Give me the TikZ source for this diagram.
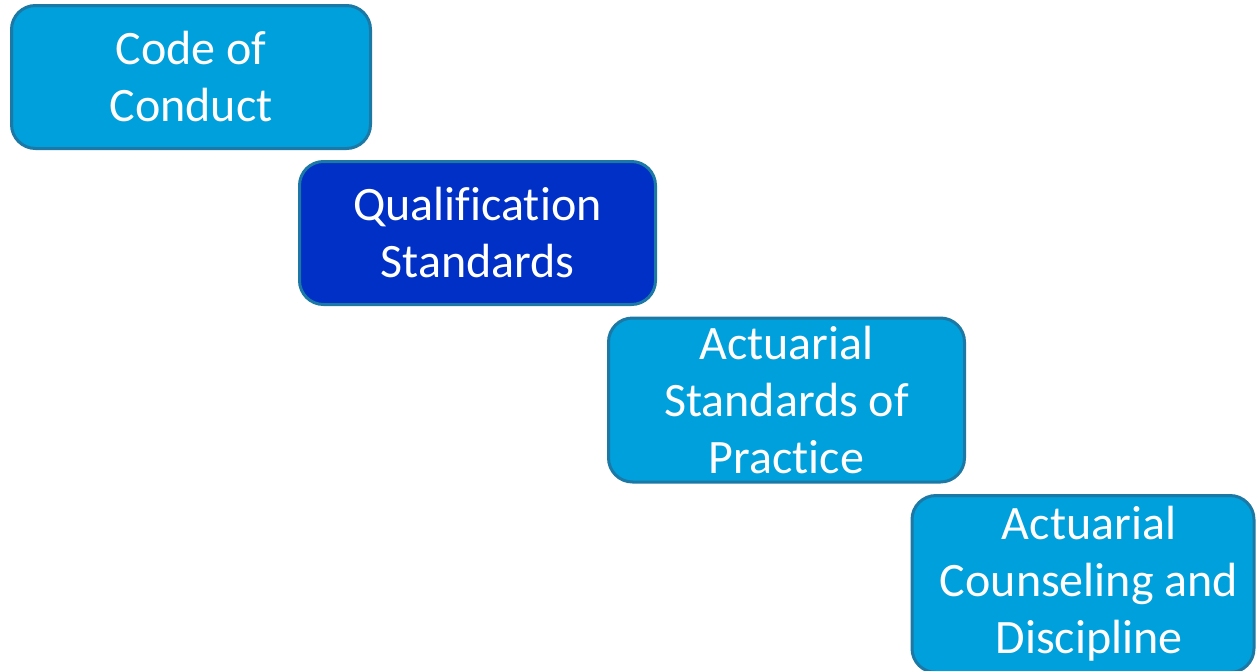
\documentclass[tikz,border=0pt]{standalone}
\usepackage{fontspec}
\setmainfont[Ligatures={NoCommon}]{Carlito}
\definecolor{lightfill}{HTML}{00A0DC}
\definecolor{darkfill}{HTML}{0030C6}
\definecolor{edgeblue}{HTML}{1C78A4}
\begin{document}
\begin{tikzpicture}[x=1pt,y=1pt,
  stagebox/.style={draw=edgeblue, line width=3pt, rounded corners=24pt,
    fill=lightfill, text=white, align=center, inner sep=0pt,
    font=\fontsize{48}{57}\selectfont},
  darkbox/.style={stagebox, fill=darkfill}]
\useasboundingbox (0,0) rectangle (1256,-670);
\node[stagebox, minimum width=359pt, minimum height=143pt] (conduct) at (191,-77) {Code of\\Conduct};
\node[darkbox, minimum width=356pt, minimum height=143pt] (qual) at (477.5,-233) {Qualification\\Standards};
\node[stagebox, minimum width=356pt, minimum height=164pt] (asop) at (786.5,-400) {Actuarial\\Standards of\\Practice};
\node[stagebox, minimum width=342pt, minimum height=177pt] (abcd) at (1083,-584)
  {\hspace*{12pt}Actuarial\\\hspace*{12pt}Counseling and\\\hspace*{12pt}Discipline};
\end{tikzpicture}
\end{document}
